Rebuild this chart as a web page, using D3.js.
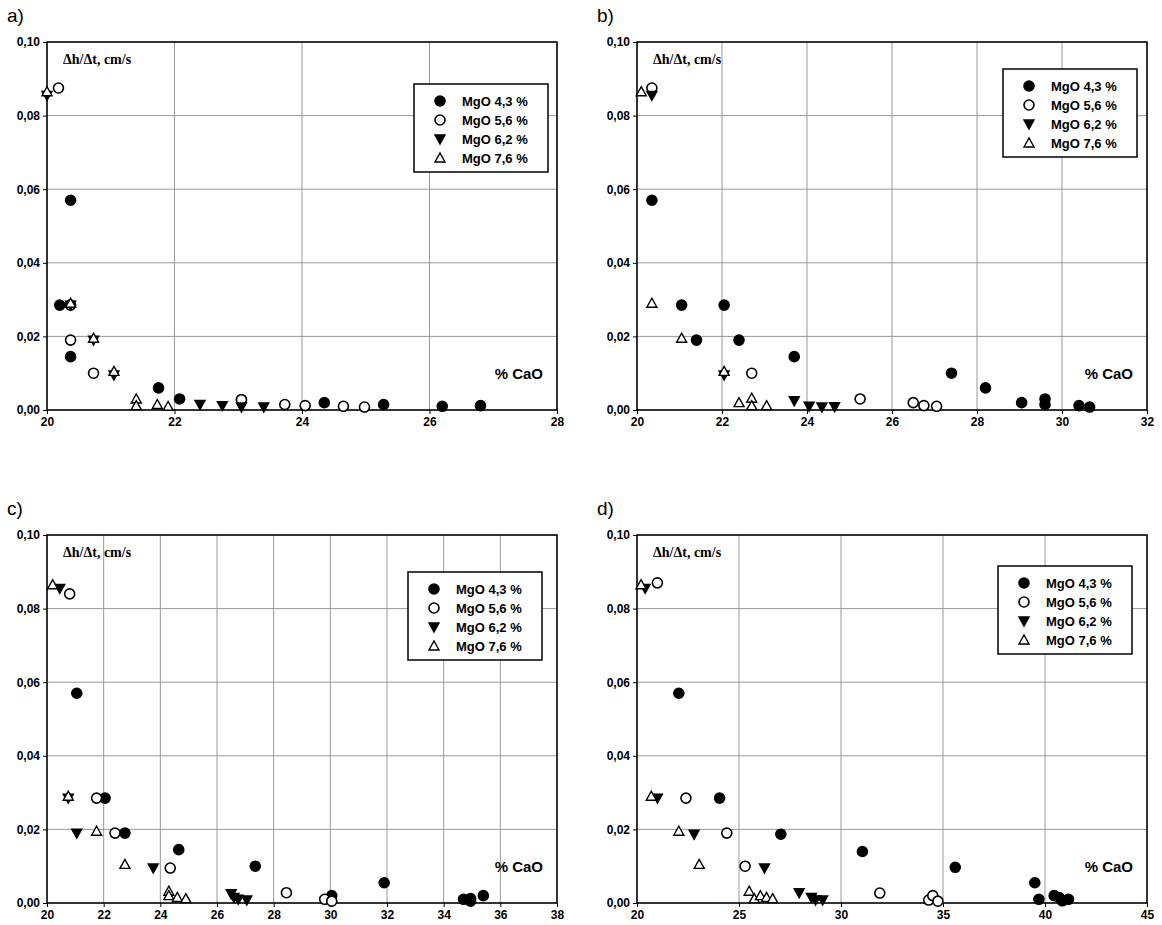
<!DOCTYPE html>
<html><head><meta charset="utf-8">
<script src="https://cdn.jsdelivr.net/npm/d3@7"></script>
<style>body{margin:0;background:#fff}text{font-family:"Liberation Sans",Arial,sans-serif}</style>
</head><body><svg id="c" width="1162" height="925"></svg>
<script>
// data per panel: [x (% CaO), y (cm/s)]
var seriesNames = ['MgO 4,3 %', 'MgO 5,6 %', 'MgO 6,2 %', 'MgO 7,6 %'];
var yTicks = [0, 0.02, 0.04, 0.06, 0.08, 0.10];

var aMg43 = [[20.2,0.0285],[20.37,0.057],[20.37,0.0145],[21.75,0.006],[22.08,0.003],[23.05,0.0028],[24.35,0.002],[25.28,0.0015],[26.2,0.001],[26.8,0.0012]];
var aMg56 = [[20.18,0.0875],[20.37,0.0285],[20.37,0.019],[20.73,0.01],[23.05,0.0028],[23.73,0.0015],[24.05,0.0012],[24.65,0.001],[24.98,0.0008]];
var aMg62 = [[20.0,0.0855],[20.37,0.0285],[20.73,0.019],[21.05,0.0095],[22.4,0.0015],[22.75,0.0012],[23.05,0.0008],[23.4,0.0008]];
var aMg76 = [[20.0,0.0865],[20.37,0.029],[20.73,0.0195],[21.05,0.0105],[21.4,0.003],[21.4,0.0012],[21.73,0.0015],[21.9,0.001]];

var bMg43 = [[20.35,0.057],[21.05,0.0285],[21.4,0.019],[22.05,0.0285],[22.4,0.019],[23.7,0.0145],[27.4,0.01],[28.2,0.006],[29.05,0.002],[29.6,0.003],[29.6,0.0015],[30.4,0.0012],[30.65,0.0008]];
var bMg56 = [[20.35,0.0875],[22.7,0.01],[25.25,0.003],[26.5,0.002],[26.75,0.0012],[27.05,0.001]];
var bMg62 = [[20.35,0.0855],[22.05,0.0095],[23.7,0.0025],[24.05,0.001],[24.35,0.0008],[24.65,0.0009]];
var bMg76 = [[20.1,0.0865],[20.35,0.029],[21.05,0.0195],[22.05,0.0105],[22.4,0.002],[22.7,0.0032],[22.7,0.0012],[23.05,0.0012]];

var cMg43 = [[21.05,0.057],[22.05,0.0285],[22.75,0.019],[24.65,0.0145],[27.35,0.01],[30.05,0.002],[31.9,0.0055],[34.7,0.001],[34.95,0.0012],[34.95,0.0005],[35.4,0.002]];
var cMg56 = [[20.8,0.084],[21.75,0.0285],[22.4,0.019],[24.35,0.0095],[28.45,0.0028],[29.8,0.001],[30.05,0.0005]];
var cMg62 = [[20.45,0.0855],[20.75,0.0285],[21.05,0.019],[23.75,0.0095],[26.5,0.0025],[26.6,0.0015],[26.75,0.001],[27.05,0.0008]];
var cMg76 = [[20.2,0.0865],[20.75,0.029],[21.75,0.0195],[22.75,0.0105],[24.3,0.0032],[24.3,0.002],[24.6,0.0015],[24.9,0.0012]];

var dMg43 = [[22.05,0.057],[24.05,0.0285],[27.05,0.0187],[31.05,0.014],[35.6,0.0097],[39.5,0.0055],[39.7,0.001],[40.45,0.002],[40.7,0.0015],[40.85,0.0006],[41.15,0.001]];
var dMg56 = [[21.0,0.087],[22.4,0.0285],[24.4,0.019],[25.3,0.01],[31.9,0.0027],[34.3,0.0008],[34.5,0.002],[34.75,0.0005]];
var dMg62 = [[20.4,0.0855],[21.0,0.0285],[22.8,0.0187],[26.25,0.0095],[27.95,0.0028],[28.55,0.0015],[28.75,0.0008],[29.1,0.0008]];
var dMg76 = [[20.2,0.0865],[20.7,0.029],[22.05,0.0195],[23.05,0.0105],[25.5,0.0032],[25.75,0.0012],[26.05,0.002],[26.35,0.0015],[26.65,0.0012]];

var aTicks = [20,22,24,26,28], bTicks = [20,22,24,26,28,30,32],
    cTicks = [20,22,24,26,28,30,32,34,36,38], dTicks = [20,25,30,35,40,45];

var panels = [
  {label:'a)', x0:47, y0:42, xt:aTicks, s:[aMg43,aMg56,aMg62,aMg76], lg:[414,84]},
  {label:'b)', x0:637, y0:42, xt:bTicks, s:[bMg43,bMg56,bMg62,bMg76], lg:[1003,69]},
  {label:'c)', x0:47, y0:535, xt:cTicks, s:[cMg43,cMg56,cMg62,cMg76], lg:[408,572]},
  {label:'d)', x0:637, y0:535, xt:dTicks, s:[dMg43,dMg56,dMg62,dMg76], lg:[998,566]}
];
var W = 510, H = 368;
var svg = d3.select('#c');
var fmt = function(v){ return v.toFixed(2).replace('.', ','); };

function marker(g, k, x, y) {
  if (k < 2) {
    g.append('circle').attr('cx', x).attr('cy', y).attr('r', 5)
      .attr('fill', k == 0 ? '#000' : '#fff').attr('stroke', '#000').attr('stroke-width', 1.6);
  } else {
    var d = k == 2 ? [[-5,-4],[5,-4],[0,5]] : [[-5,4],[5,4],[0,-5]];
    g.append('path').attr('d', 'M' + d.map(function(p){ return (x+p[0]) + ',' + (y+p[1]); }).join('L') + 'Z')
      .attr('fill', k == 2 ? '#000' : '#fff').attr('stroke', '#000').attr('stroke-width', 1.4);
  }
}

panels.forEach(function(p) {
  var xt = p.xt;
  var x = d3.scaleLinear().domain([xt[0], xt[xt.length-1]]).range([p.x0, p.x0 + W]);
  var y = d3.scaleLinear().domain([0, 0.1]).range([p.y0 + H, p.y0]);
  var g = svg.append('g');

  g.append('text').attr('x', p.x0 - 40).attr('y', p.y0 - 20).attr('font-size', 19).text(p.label);

  g.selectAll('.vg').data(xt).enter().append('line')
    .attr('x1', x).attr('x2', x).attr('y1', p.y0).attr('y2', p.y0 + H).attr('stroke', '#999');
  g.selectAll('.hg').data(yTicks).enter().append('line')
    .attr('y1', y).attr('y2', y).attr('x1', p.x0).attr('x2', p.x0 + W).attr('stroke', '#999');
  g.append('rect').attr('x', p.x0).attr('y', p.y0).attr('width', W).attr('height', H)
    .attr('fill', 'none').attr('stroke', '#000').attr('stroke-width', 1.5);

  var ax = g.append('g').attr('transform', 'translate(0,' + (p.y0 + H) + ')')
    .call(d3.axisBottom(x).tickValues(xt).tickSize(4).tickFormat(d3.format('d')));
  var ay = g.append('g').attr('transform', 'translate(' + p.x0 + ',0)')
    .call(d3.axisLeft(y).tickValues(yTicks).tickSize(4).tickFormat(fmt));
  [ax, ay].forEach(function(a){
    a.select('.domain').remove();
    a.selectAll('text').attr('font-size', 12).attr('font-weight', 'bold').attr('fill', '#000');
  });

  g.append('text').attr('x', p.x0 + 16).attr('y', p.y0 + 22)
    .attr('font-weight', 'bold').attr('font-size', 14)
    .style('font-family', '"Liberation Serif",serif').text('Δh/Δt, cm/s');
  g.append('text').attr('x', p.x0 + W - 14).attr('y', y(0.0085)).attr('text-anchor', 'end')
    .attr('font-weight', 'bold').attr('font-size', 15).text('% CaO');

  p.s.forEach(function(pts, k) {
    pts.forEach(function(d){ marker(g, k, x(d[0]), y(d[1])); });
  });

  var lg = g.append('g').attr('transform', 'translate(' + p.lg[0] + ',' + p.lg[1] + ')');
  lg.append('rect').attr('width', 134).attr('height', 88).attr('fill', '#fff')
    .attr('stroke', '#000').attr('stroke-width', 1.5);
  seriesNames.forEach(function(n, k) {
    marker(lg, k, 26, 17 + k * 19);
    lg.append('text').attr('x', 48).attr('y', 22 + k * 19).attr('font-size', 13)
      .attr('font-weight', 'bold').text(n);
  });
});
</script></body></html>
